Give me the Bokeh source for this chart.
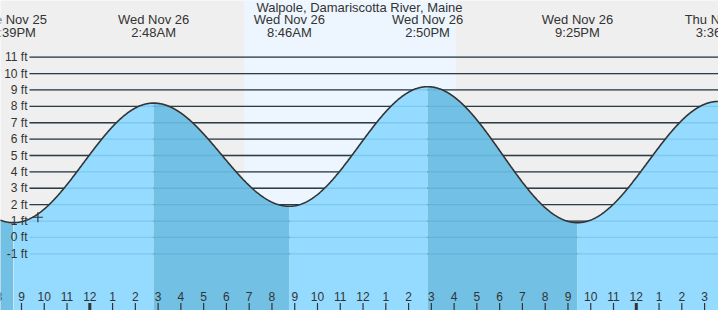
import numpy as np
from bokeh.plotting import figure
from bokeh.models import Range1d, ColumnDataSource
from bokeh.embed import file_html
from bokeh.resources import INLINE
from bokeh.core.properties import value

# ---------------- data ----------------
TITLE = "Walpole, Damariscotta River, Maine"
# tide extremes, hours after Wed Nov 26 00:00 (first / last are just off-chart)
event_hours = [-9.90, -3.35, 2.80, 8.767, 14.833, 21.417, 27.60, 33.75]
event_heights = [9.1, 0.9, 8.2, 1.9, 9.2, 0.9, 8.3, 2.0]
event_dates = ["", "Tue Nov 25", "Wed Nov 26", "Wed Nov 26", "Wed Nov 26", "Wed Nov 26", "Thu Nov 27", ""]
event_times = ["", "8:39PM", "2:48AM", "8:46AM", "2:50PM", "9:25PM", "3:36AM", ""]
sunrise_hour = 6.78   # 6:47AM
sunset_hour = 16.07   # 4:04PM
y_ticks = list(range(-1, 12))
y_tick_labels = [f"{v} ft" for v in y_ticks]
hour_ticks = list(range(-4, 29))
hour_labels = [str((h % 12) or 12) for h in hour_ticks]
now_hour = -2.28
now_height = 1.23

# ---------------- layout constants ----------------
X0, X1 = -3.922, 27.611
Y0, Y1 = -4.461, 14.461
FONT = value("Liberation Sans")
TXT = "#333333"

p = figure(width=718, height=310, x_range=Range1d(X0, X1), y_range=Range1d(Y0, Y1),
           output_backend="svg", toolbar_location=None, min_border=0,
           x_axis_location=None, y_axis_location=None,
           background_fill_color="#efefef", border_fill_color="#efefef",
           outline_line_color=None)
p.xgrid.grid_line_color = None
p.ygrid.grid_line_color = None

# daylight band
p.quad(left=[sunrise_hour], right=[sunset_hour], bottom=[Y0], top=[Y1],
       fill_color="#edf6fe", line_color=None)

# grid lines (under fill)
gx0 = X0 + 29 / 22.77
grid_src = ColumnDataSource(dict(x0=[gx0] * len(y_ticks), x1=[X1] * len(y_ticks),
                                 y=y_ticks, lab=y_tick_labels))
p.segment(x0="x0", y0="y", x1="x1", y1="y", source=grid_src,
          line_color="#2e2e2e", line_width=1.3)

# tide curve: cosine shape between consecutive extremes
t = np.linspace(X0 - 0.05, X1 + 0.05, 1200)
h = np.empty_like(t)
seg_idx = np.searchsorted(event_hours, t, side="right") - 1
for k, tt in enumerate(t):
    i = seg_idx[k]
    ta, tb = event_hours[i], event_hours[i + 1]
    ya, yb = event_heights[i], event_heights[i + 1]
    f = (tt - ta) / (tb - ta)
    h[k] = ya + (yb - ya) * (1 - np.cos(np.pi * f)) / 2

for i in range(len(event_hours) - 1):
    ta, tb = event_hours[i], event_hours[i + 1]
    m = (t >= ta - 0.01) & (t <= tb + 0.01)
    if m.sum() < 2:
        continue
    falling = event_heights[i] > event_heights[i + 1]
    col = "#72c0e4" if falling else "#94dbff"
    p.varea(x=t[m], y1=np.full(m.sum(), Y0), y2=h[m], fill_color=col)

# grid lines seen through water
p.segment(x0="x0", y0="y", x1="x1", y1="y", source=grid_src,
          line_color="#2a7fb0", line_alpha=0.2, line_width=1.3)

p.line(t, h, line_color="#333333", line_width=1.6)

# current time marker
p.scatter([now_hour], [now_height], marker="cross", size=10, line_color="#333333", line_width=1.2)

# y tick labels
p.text(x=X0, y="y", text="lab", source=grid_src, x_offset=27, text_align="right",
       text_baseline="middle", text_font=FONT, text_font_size="12px", text_color=TXT)

# title
p.text(x=[(X0 + X1) / 2], y=[14.034], text=[TITLE], text_align="center", text_baseline="middle",
       text_font=FONT, text_font_size="13px", text_color=TXT)

# event labels
ev_src = ColumnDataSource(dict(x=event_hours, d=event_dates, tm=event_times,
                               yd=[13.30] * len(event_hours), yt=[12.51] * len(event_hours)))
p.text(x="x", y="yd", text="d", source=ev_src, text_align="center", text_baseline="middle",
       text_font=FONT, text_font_size="13px", text_color=TXT)
p.text(x="x", y="yt", text="tm", source=ev_src, text_align="center", text_baseline="middle",
       text_font=FONT, text_font_size="13px", text_color=TXT)

# hour ticks and labels
midnight = [hh % 24 == 0 for hh in hour_ticks]
tick_src = ColumnDataSource(dict(x=hour_ticks, lab=hour_labels,
                                 y0=[-4.003] * len(hour_ticks), y1=[Y0] * len(hour_ticks),
                                 yl=[-3.606] * len(hour_ticks),
                                 w=[3 if m else 1.2 for m in midnight]))
p.segment(x0="x", y0="y0", x1="x", y1="y1", source=tick_src, line_color="#333333", line_width="w")
p.text(x="x", y="yl", text="lab", source=tick_src, text_align="center", text_baseline="middle",
       text_font=FONT, text_font_size="12px", text_color=TXT)

open("out.html", "w").write(file_html(p, INLINE))
